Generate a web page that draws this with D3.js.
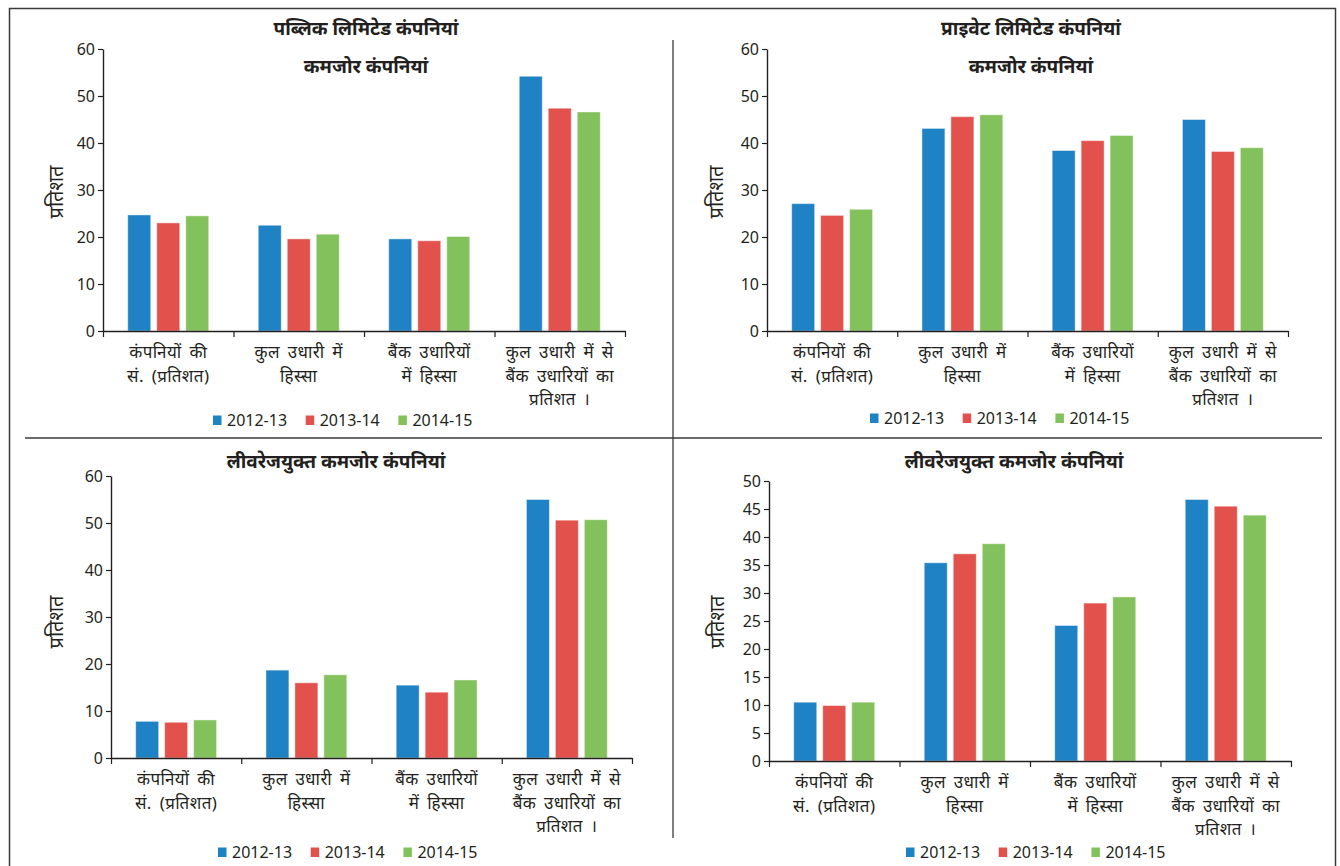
<!DOCTYPE html>
<html>
<head>
<meta charset="utf-8">
<script src="https://cdn.jsdelivr.net/npm/d3@7"></script>
<style>
  html, body { margin: 0; padding: 0; background: #fff; }
  svg { display: block; }
  text { font-family: "Noto Sans", "Noto Sans Devanagari", "Lohit Devanagari", "Mukta", sans-serif; fill: #231f20; }
</style>
</head>
<body>
<svg id="chart" width="1340" height="866"></svg>
<script>
// Category labels (each entry is a list of lines)
const categories = [
  ["कंपनियों की", "सं. (प्रतिशत)"],
  ["कुल उधारी में", "हिस्सा"],
  ["बैंक उधारियों", "में हिस्सा"],
  ["कुल उधारी में से", "बैंक उधारियों का", "प्रतिशत ।"]
];
const years = ["2012-13", "2013-14", "2014-15"];
const yearColors = ["#1f82c4", "#e2514c", "#82c15b"];

// Values per category: [2012-13, 2013-14, 2014-15], in per cent
const publicWeak = [[24.7, 23.0, 24.5], [22.5, 19.6, 20.6], [19.6, 19.2, 20.1], [54.2, 47.4, 46.6]];
const privateWeak = [[27.1, 24.6, 25.9], [43.1, 45.6, 46.0], [38.4, 40.5, 41.6], [45.0, 38.2, 39.0]];
const publicLeveraged = [[7.8, 7.6, 8.1], [18.7, 16.0, 17.7], [15.5, 14.0, 16.6], [55.0, 50.6, 50.7]];
const privateLeveraged = [[10.5, 9.9, 10.5], [35.4, 37.0, 38.8], [24.2, 28.2, 29.3], [46.7, 45.5, 43.9]];

const ticks60 = [0, 10, 20, 30, 40, 50, 60];
const ticks50 = [0, 5, 10, 15, 20, 25, 30, 35, 40, 45, 50];

const yAxisTitle = "प्रतिशत";

const svg = d3.select("#chart");

// Outer frame and panel dividers
svg.append("rect").attr("x", 9.5).attr("y", 8.5).attr("width", 1326).attr("height", 880)
  .attr("fill", "none").attr("stroke", "#3a3a3a").attr("stroke-width", 1.5);
svg.append("line").attr("x1", 25).attr("x2", 1322).attr("y1", 438).attr("y2", 438)
  .attr("stroke", "#3a3a3a").attr("stroke-width", 1.3);
svg.append("line").attr("x1", 673).attr("x2", 673).attr("y1", 40).attr("y2", 838)
  .attr("stroke", "#3a3a3a").attr("stroke-width", 1.3);

const panels = [
  { data: publicWeak, title: "पब्लिक लिमिटेड कंपनियां", subtitle: "कमजोर कंपनियां",
    x: [103, 625], y: [331, 49], max: 60, ticks: ticks60, titleX: 366, titleY: 28, subY: 66,
    ylabX: 56, ylabY: 192, legX: 213, legY: 420 },
  { data: privateWeak, title: "प्राइवेट लिमिटेड कंपनियां", subtitle: "कमजोर कंपनियां",
    x: [767, 1288], y: [331, 49], max: 60, ticks: ticks60, titleX: 1031, titleY: 28, subY: 66,
    ylabX: 716, ylabY: 192, legX: 870, legY: 418 },
  { data: publicLeveraged, title: "लीवरेजयुक्त कमजोर कंपनियां", subtitle: null,
    x: [111, 632], y: [758, 476], max: 60, ticks: ticks60, titleX: 336, titleY: 461,
    ylabX: 56, ylabY: 622, legX: 218, legY: 852 },
  { data: privateLeveraged, title: "लीवरेजयुक्त कमजोर कंपनियां", subtitle: null,
    x: [769, 1291], y: [761, 481], max: 50, ticks: ticks50, titleX: 1014, titleY: 461,
    ylabX: 717, ylabY: 622, legX: 906, legY: 852 }
];

panels.forEach(p => {
  const g = svg.append("g");

  const x0 = d3.scaleBand().domain(d3.range(categories.length)).range(p.x).paddingInner(0).paddingOuter(0);
  const x1 = d3.scaleBand().domain(d3.range(years.length)).range([0, x0.bandwidth()])
    .paddingInner(0.207).paddingOuter(0.853);
  const y = d3.scaleLinear().domain([0, p.max]).range(p.y);

  // Bars
  p.data.forEach((vals, ci) => {
    g.selectAll(null).data(vals).join("rect")
      .attr("x", (d, i) => x0(ci) + x1(i))
      .attr("width", x1.bandwidth())
      .attr("y", d => y(d))
      .attr("height", d => y(0) - y(d))
      .attr("fill", (d, i) => yearColors[i])
      .attr("stroke", "rgba(255,255,255,0.45)")
      .attr("stroke-width", 1);
  });

  // Y axis
  const yAxis = g.append("g").attr("transform", `translate(${p.x[0]},0)`)
    .call(d3.axisLeft(y).tickValues(p.ticks).tickSize(5).tickSizeOuter(0).tickPadding(3));
  yAxis.select(".domain").attr("stroke", "#231f20").attr("stroke-width", 1.4);
  yAxis.selectAll(".tick line").attr("stroke", "#231f20").attr("stroke-width", 1.2);
  yAxis.selectAll(".tick text").style("font-size", "16px").attr("fill", "#231f20");

  // X axis with ticks at category boundaries
  const xb = d3.scaleLinear().domain([0, categories.length]).range(p.x);
  const xAxis = g.append("g").attr("transform", `translate(0,${p.y[0]})`)
    .call(d3.axisBottom(xb).tickValues(d3.range(categories.length + 1)).tickSize(6).tickSizeOuter(0).tickFormat(""));
  xAxis.select(".domain").attr("stroke", "#231f20").attr("stroke-width", 1.4);
  xAxis.selectAll(".tick line").attr("stroke", "#231f20").attr("stroke-width", 1.2);

  // Category labels, one text per line
  categories.forEach((lines, ci) => {
    lines.forEach((ln, li) => {
      g.append("text")
        .attr("x", x0(ci) + x0.bandwidth() / 2)
        .attr("y", p.y[0] + 27 + li * 23.5)
        .attr("text-anchor", "middle")
        .style("font-size", "17px")
        .style("letter-spacing", "0.4px")
        .style("word-spacing", "3px")
        .text(ln);
    });
  });

  // Titles
  g.append("text").attr("x", p.titleX).attr("y", p.titleY).attr("dy", "0.35em")
    .attr("text-anchor", "middle").style("font-size", "19px").style("font-weight", "bold").text(p.title);
  if (p.subtitle) {
    g.append("text").attr("x", p.titleX).attr("y", p.subY).attr("dy", "0.35em")
      .attr("text-anchor", "middle").style("font-size", "19px").style("font-weight", "bold").text(p.subtitle);
  }

  // Y axis title
  g.append("text")
    .attr("transform", `translate(${p.ylabX},${p.ylabY}) rotate(-90)`)
    .attr("text-anchor", "middle").attr("dy", "0.35em")
    .style("font-size", "20px").text(yAxisTitle);

  // Legend
  const leg = g.append("g").attr("transform", `translate(${p.legX},${p.legY})`);
  years.forEach((yr, i) => {
    const item = leg.append("g").attr("transform", `translate(${i * 92.7},0)`);
    item.append("rect").attr("x", 0).attr("y", -4.5).attr("width", 8.5).attr("height", 9.5).attr("fill", yearColors[i]);
    item.append("text").attr("x", 14).attr("y", 0).attr("dy", "0.36em")
      .style("font-size", "16px").text(yr);
  });
});
</script>
</body>
</html>
